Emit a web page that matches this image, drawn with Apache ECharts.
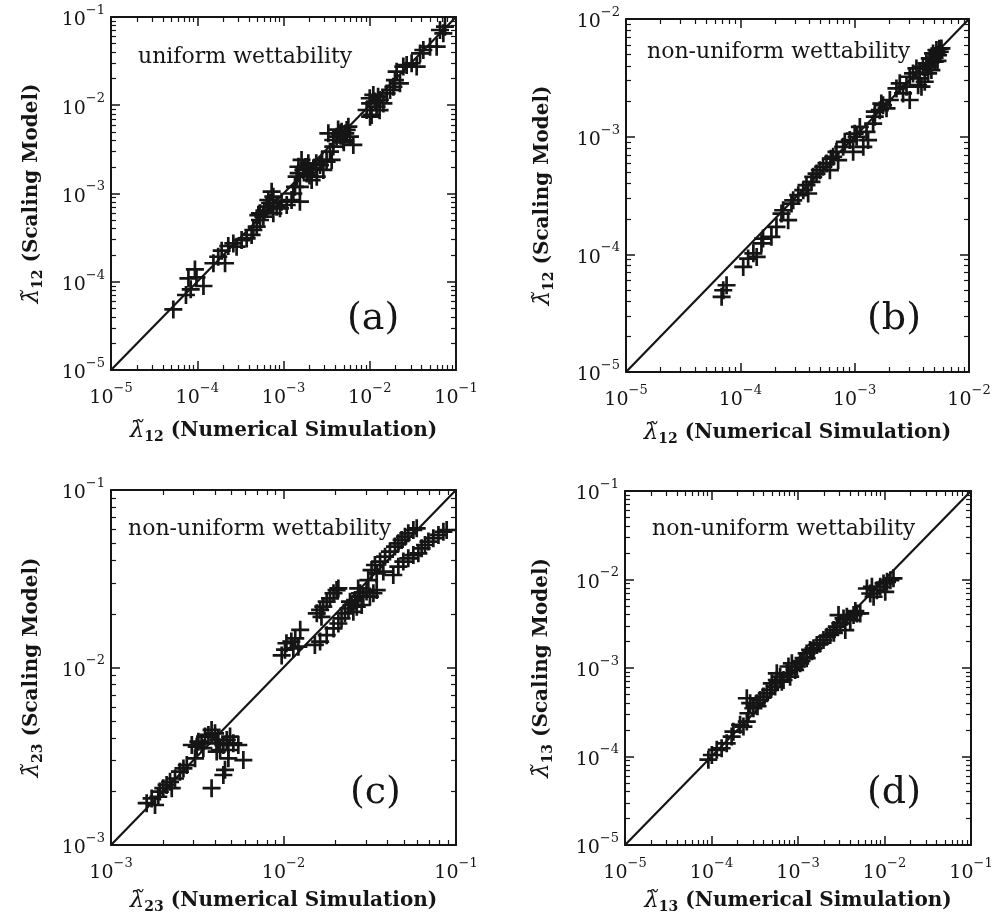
<!DOCTYPE html>
<html><head><meta charset="utf-8">
<script src="https://cdn.jsdelivr.net/npm/echarts@6/dist/echarts.min.js"></script>
<style>html,body{margin:0;padding:0;background:#fff}#c{width:997px;height:916px}</style>
</head><body><div id="c"></div>
<script>
// ---------- data: [numerical simulation, scaling model] ----------
const panelA = [[5.28e-5,4.86e-5],[7.4e-5,7.08e-5],[8.4e-5,8.2e-5],[7.9e-5,1.09e-4],[9.8e-5,1.12e-4],[1.18e-4,8.95e-5],[9.4e-5,1.38e-4],[1.54e-4,1.62e-4],[1.75e-4,1.92e-4],[1.92e-4,2.25e-4],[2.10e-4,1.62e-4],[2.29e-4,2.54e-4],[2.62e-4,2.72e-4],[2.86e-4,2.50e-4],[3.27e-4,2.97e-4],[3.74e-4,3.10e-4],[4.27e-4,3.39e-4],[4.47e-4,3.86e-4],[4.89e-4,4.21e-4],[5.34e-4,5.01e-4],[5.11e-4,5.70e-4],[5.84e-4,5.46e-4],[6.38e-4,7.10e-4],[6.67e-4,8.44e-4],[7.29e-4,1.05e-3],[7.62e-4,5.96e-4],[8.33e-4,7.10e-4],[9.1e-4,6.79e-4],[9.5e-4,8.08e-4],[1.09e-3,7.41e-4],[1.24e-3,8.44e-4],[1.36e-3,1.19e-3],[1.42e-3,1.55e-3],[1.49e-3,2.01e-3],[1.62e-3,2.40e-3],[1.70e-3,1.85e-3],[1.55e-3,8.08e-4],[1.86e-3,1.69e-3],[1.94e-3,2.20e-3],[2.12e-3,1.42e-3],[2.22e-3,1.93e-3],[2.43e-3,1.55e-3],[2.65e-3,2.10e-3],[2.90e-3,1.85e-3],[3.16e-3,2.30e-3],[3.62e-3,2.40e-3],[3.46e-3,2.98e-3],[3.78e-3,3.40e-3],[4.13e-3,4.41e-3],[3.31e-3,4.81e-3],[4.52e-3,4.81e-3],[4.94e-3,4.04e-3],[5.40e-3,5.25e-3],[5.90e-3,4.41e-3],[6.45e-3,3.55e-3],[5.65e-3,5.72e-3],[9.2e-3,8.83e-3],[1.01e-2,1.05e-2],[1.05e-2,7.76e-3],[1.10e-2,1.31e-2],[1.20e-2,9.64e-3],[1.31e-2,1.15e-2],[1.44e-2,1.05e-2],[1.57e-2,1.36e-2],[1.72e-2,1.49e-2],[1.88e-2,1.62e-2],[1.96e-2,1.93e-2],[2.05e-2,2.40e-2],[2.24e-2,1.77e-2],[2.45e-2,2.74e-2],[2.68e-2,2.86e-2],[3.06e-2,2.99e-2],[3.50e-2,2.74e-2],[3.83e-2,3.87e-2],[4.18e-2,4.23e-2],[5.00e-2,4.61e-2],[5.97e-2,4.61e-2],[6.52e-2,7.12e-2],[7.13e-2,6.53e-2],[7.45e-2,7.77e-2],[1.01e-2,7.43e-3],[1.55e-3,1.19e-3],[5.34e-4,5.96e-4],[7.62e-4,9.2e-4],[3.78e-3,4.04e-3],[4.72e-3,5.02e-3],[1.50e-3,1.70e-3],[1.80e-3,2.00e-3],[2.00e-3,1.60e-3],[2.40e-3,2.20e-3],[2.80e-3,2.40e-3],[1.30e-3,1.00e-3],[4.60e-3,4.50e-3],[5.20e-3,4.80e-3],[4.30e-3,5.30e-3],[5.00e-3,3.80e-3],[1.15e-2,1.10e-2],[1.25e-2,1.25e-2],[1.00e-2,1.20e-2],[1.30e-2,8.80e-3],[6.00e-4,6.40e-4],[7.00e-4,7.80e-4]];

const panelB = [[6.86e-5,4.35e-5],[7.58e-5,5.46e-5],[7.09e-5,4.95e-5],[1.06e-4,7.82e-5],[1.17e-4,9.2e-5],[1.30e-4,1.02e-4],[1.39e-4,9.5e-5],[1.53e-4,1.24e-4],[1.58e-4,1.36e-4],[1.87e-4,1.41e-4],[2.07e-4,1.71e-4],[2.29e-4,2.22e-4],[2.37e-4,2.37e-4],[2.62e-4,1.95e-4],[2.80e-4,2.70e-4],[2.90e-4,2.88e-4],[3.21e-4,3.18e-4],[3.55e-4,3.51e-4],[3.79e-4,3.87e-4],[3.92e-4,3.29e-4],[4.19e-4,4.13e-4],[4.34e-4,4.56e-4],[4.64e-4,4.86e-4],[4.96e-4,5.19e-4],[5.30e-4,5.55e-4],[6.07e-4,5.19e-4],[5.67e-4,5.92e-4],[6.49e-4,6.75e-4],[6.93e-4,7.43e-4],[7.17e-4,6.31e-4],[7.93e-4,8.20e-4],[8.20e-4,9.04e-4],[9.06e-4,9.35e-4],[9.7e-4,7.43e-4],[1.04e-3,9.98e-4],[1.11e-3,1.21e-3],[1.19e-3,8.20e-4],[1.27e-3,1.10e-3],[1.31e-3,9.35e-4],[1.45e-3,1.29e-3],[1.50e-3,1.48e-3],[1.66e-3,1.68e-3],[1.77e-3,1.85e-3],[1.90e-3,1.74e-3],[1.50e-3,1.63e-3],[2.03e-3,2.05e-3],[2.32e-3,2.57e-3],[2.48e-3,2.84e-3],[2.65e-3,2.33e-3],[2.84e-3,2.66e-3],[3.03e-3,2.05e-3],[3.24e-3,3.45e-3],[3.47e-3,3.80e-3],[3.71e-3,3.13e-3],[3.96e-3,3.93e-3],[4.24e-3,4.20e-3],[4.10e-3,2.93e-3],[4.54e-3,4.62e-3],[4.85e-3,5.10e-3],[5.19e-3,5.45e-3],[5.55e-3,5.27e-3],[4.69e-3,3.68e-3],[5.01e-3,4.33e-3],[5.36e-3,4.94e-3],[3.84e-3,2.66e-3],[4.39e-3,3.45e-3],[3.03e-3,3.23e-3],[3.59e-3,2.74e-3],[5.74e-3,5.62e-3],[1.71e-3,1.91e-3],[4.50e-3,4.00e-3],[4.80e-3,4.60e-3],[5.20e-3,5.00e-3],[5.00e-3,4.70e-3],[5.50e-3,5.60e-3],[4.30e-3,3.90e-3],[5.30e-3,4.40e-3],[3.70e-3,3.50e-3],[6.20e-4,6.50e-4],[1.00e-3,1.06e-3]];

const panelC = [[1.61e-3,1.72e-3],[1.72e-3,1.83e-3],[1.80e-3,1.68e-3],[1.88e-3,1.87e-3],[1.92e-3,2.00e-3],[2.01e-3,2.09e-3],[2.10e-3,2.18e-3],[2.20e-3,2.27e-3],[2.25e-3,2.09e-3],[2.35e-3,2.37e-3],[2.51e-3,2.59e-3],[2.63e-3,2.70e-3],[2.75e-3,2.82e-3],[3.07e-3,3.08e-3],[3.14e-3,3.58e-3],[3.21e-3,3.82e-3],[3.35e-3,3.74e-3],[3.51e-3,4.08e-3],[3.67e-3,4.17e-3],[3.83e-3,4.45e-3],[4.01e-3,4.26e-3],[4.10e-3,3.74e-3],[4.29e-3,3.43e-3],[4.48e-3,3.66e-3],[4.69e-3,3.91e-3],[4.90e-3,4.08e-3],[5.12e-3,3.74e-3],[4.79e-3,3.43e-3],[5.47e-3,3.66e-3],[5.85e-3,3.01e-3],[4.79e-3,3.08e-3],[4.10e-3,3.36e-3],[4.58e-3,2.65e-3],[4.48e-3,2.48e-3],[3.83e-3,2.09e-3],[4.19e-3,3.91e-3],[3.43e-3,3.51e-3],[2.94e-3,3.66e-3],[9.76e-3,1.17e-2],[1.02e-2,1.26e-2],[1.04e-2,1.37e-2],[1.11e-2,1.40e-2],[1.17e-2,1.46e-2],[1.25e-2,1.63e-2],[1.14e-2,1.28e-2],[1.22e-2,1.31e-2],[1.56e-2,2.02e-2],[1.63e-2,2.11e-2],[1.70e-2,2.20e-2],[1.78e-2,2.35e-2],[1.86e-2,2.45e-2],[1.95e-2,2.62e-2],[2.03e-2,2.73e-2],[2.08e-2,2.79e-2],[1.66e-2,1.93e-2],[1.52e-2,1.34e-2],[1.63e-2,1.40e-2],[1.78e-2,1.52e-2],[1.95e-2,1.66e-2],[2.08e-2,1.77e-2],[2.17e-2,1.89e-2],[2.27e-2,2.02e-2],[2.38e-2,2.15e-2],[2.48e-2,2.25e-2],[2.60e-2,2.40e-2],[2.71e-2,2.51e-2],[2.78e-2,2.62e-2],[2.90e-2,2.51e-2],[3.03e-2,2.68e-2],[3.17e-2,2.51e-2],[3.32e-2,2.62e-2],[3.47e-2,2.73e-2],[2.84e-2,2.25e-2],[2.66e-2,2.20e-2],[2.54e-2,2.06e-2],[2.43e-2,2.35e-2],[2.71e-2,2.79e-2],[3.10e-2,3.11e-2],[3.24e-2,3.54e-2],[3.39e-2,3.78e-2],[3.63e-2,3.95e-2],[3.88e-2,4.21e-2],[4.14e-2,4.50e-2],[4.43e-2,4.80e-2],[4.63e-2,5.01e-2],[4.84e-2,5.23e-2],[5.06e-2,5.46e-2],[5.29e-2,5.70e-2],[5.66e-2,5.95e-2],[5.92e-2,6.08e-2],[3.47e-2,3.39e-2],[3.79e-2,3.47e-2],[4.33e-2,3.32e-2],[4.63e-2,3.70e-2],[4.95e-2,3.95e-2],[5.29e-2,4.12e-2],[5.66e-2,4.30e-2],[6.05e-2,4.40e-2],[6.32e-2,4.69e-2],[6.61e-2,4.90e-2],[6.92e-2,5.12e-2],[7.39e-2,5.35e-2],[7.91e-2,5.58e-2],[8.45e-2,5.82e-2],[8.83e-2,5.95e-2]];

const panelD = [[9.2e-5,9.2e-5],[1.01e-4,1.04e-4],[1.15e-4,1.19e-4],[1.31e-4,1.24e-4],[1.50e-4,1.41e-4],[1.71e-4,1.68e-4],[1.79e-4,1.91e-4],[2.14e-4,2.28e-4],[2.34e-4,2.18e-4],[2.56e-4,2.48e-4],[2.67e-4,3.08e-4],[2.56e-4,4.55e-4],[2.80e-4,4.00e-4],[3.05e-4,3.51e-4],[3.34e-4,4.00e-4],[3.65e-4,4.36e-4],[3.99e-4,4.75e-4],[4.36e-4,5.18e-4],[4.76e-4,5.65e-4],[4.98e-4,6.71e-4],[5.44e-4,6.16e-4],[5.69e-4,7.32e-4],[6.22e-4,7.98e-4],[6.80e-4,7.32e-4],[7.43e-4,8.71e-4],[7.76e-4,1.04e-3],[8.49e-4,1.13e-3],[9.27e-4,9.5e-4],[9.7e-4,1.04e-3],[1.06e-3,1.13e-3],[1.16e-3,1.29e-3],[1.26e-3,1.46e-3],[1.38e-3,1.60e-3],[1.51e-3,1.67e-3],[1.65e-3,1.82e-3],[1.81e-3,1.90e-3],[1.97e-3,2.07e-3],[2.16e-3,2.26e-3],[2.36e-3,2.36e-3],[2.58e-3,2.68e-3],[2.81e-3,2.93e-3],[3.08e-3,3.19e-3],[3.36e-3,3.63e-3],[3.67e-3,3.79e-3],[4.02e-3,3.48e-3],[4.39e-3,3.96e-3],[4.80e-3,4.14e-3],[5.24e-3,4.14e-3],[3.52e-3,2.68e-3],[6.26e-3,7.91e-3],[6.84e-3,6.95e-3],[7.48e-3,6.38e-3],[8.17e-3,7.58e-3],[8.93e-3,8.27e-3],[9.75e-3,9.02e-3],[1.07e-2,9.42e-3],[1.17e-2,9.83e-3],[1.27e-2,1.03e-2],[1.02e-2,7.26e-3],[7.15e-3,8.27e-3],[5.69e-4,8.71e-4],[2.94e-3,3.96e-3],[8.11e-4,7.98e-4],[1.26e-3,1.29e-3],[1.10e-3,1.20e-3],[1.45e-3,1.55e-3],[2.60e-3,2.50e-3],[4.60e-3,4.40e-3],[3.40e-4,3.70e-4],[6.50e-4,7.00e-4]];

// axis ranges and tick labels
const ticksA = [1e-5, 1e-4, 1e-3, 1e-2, 1e-1];
const ticksB = [1e-5, 1e-4, 1e-3, 1e-2];
const ticksC = [1e-3, 1e-2, 1e-1];
const ticksD = [1e-5, 1e-4, 1e-3, 1e-2, 1e-1];
const annotations = ['uniform wettability', 'non-uniform wettability', 'non-uniform wettability', 'non-uniform wettability'];
const panelLabels = ['(a)', '(b)', '(c)', '(d)'];
const subs = ['12', '12', '23', '13'];

// ---------- layout / style ----------
const FONT = 'DejaVu Serif';
const INK = '#151515';
const panels = [
  {data: panelA, ticks: ticksA, grid: {left: 111, top: 17, width: 345, height: 353}, xGap: 48, yGap: 66,
   ann: [138, 57], lab: [347, 319]},
  {data: panelB, ticks: ticksB, grid: {left: 626, top: 19, width: 343, height: 353}, xGap: 48, yGap: 70,
   ann: [647, 52], lab: [867, 319]},
  {data: panelC, ticks: ticksC, grid: {left: 111, top: 490, width: 345, height: 355}, xGap: 43, yGap: 66,
   ann: [128, 529], lab: [350, 793]},
  {data: panelD, ticks: ticksD, grid: {left: 625, top: 491, width: 346, height: 354}, xGap: 43, yGap: 70,
   ann: [652, 529], lab: [867, 793]}
];

const plus = 'path://M-1.2,-8L1.2,-8L1.2,8L-1.2,8Z M-8,-1.2L8,-1.2L8,1.2L-8,1.2Z';

function tickFmt(v) {
  const e = Math.round(Math.log10(v));
  return '{b|10}{s|' + (e < 0 ? '\u2212' : '') + Math.abs(e) + '}';
}
const tickRich = {
  b: {fontFamily: FONT, fontSize: 19, lineHeight: 26, verticalAlign: 'bottom', color: INK},
  s: {fontFamily: FONT, fontSize: 13, lineHeight: 14, verticalAlign: 'top', color: INK}
};
function titleText(sub, txt) { return '{l|\u03bb\u0303}{sub|' + sub + '} ' + txt; }
const nameStyle = {
  fontFamily: FONT, fontSize: 20, fontWeight: 'bold', color: INK, lineHeight: 26,
  rich: {
    l: {fontFamily: FONT, fontSize: 23, fontStyle: 'italic', fontWeight: 'normal', lineHeight: 26, color: INK},
    sub: {fontFamily: FONT, fontSize: 14, fontWeight: 'bold', lineHeight: 14, verticalAlign: 'bottom', color: INK}
  }
};

function axis(gi, pos, min, max, labels, name, gap) {
  return {
    type: 'log', logBase: 10, gridIndex: gi, position: pos, min: min, max: max,
    name: name || '', nameLocation: 'middle', nameGap: gap || 0, nameTextStyle: nameStyle,
    axisLine: {show: true, onZero: false, lineStyle: {color: INK, width: 2}},
    axisTick: {show: true, inside: true, length: 9, lineStyle: {color: INK, width: 1.5}},
    minorTick: {show: true, splitNumber: 9, length: 5, lineStyle: {color: INK, width: 1.2}},
    splitLine: {show: false}, minorSplitLine: {show: false},
    axisLabel: {show: labels, formatter: tickFmt, rich: tickRich,
      margin: (pos === 'bottom') ? 12 : 6, showMinLabel: true, showMaxLabel: true, hideOverlap: false}
  };
}

const grid = [], xAxis = [], yAxis = [], series = [], graphic = [];
panels.forEach((p, i) => {
  grid.push(p.grid);
  const lo = p.ticks[0], hi = p.ticks[p.ticks.length - 1];
  xAxis.push(axis(i, 'bottom', lo, hi, true, titleText(subs[i], '(Numerical Simulation)'), p.xGap));
  xAxis.push(axis(i, 'top', lo, hi, false));
  const ya = axis(i, 'left', lo, hi, true, titleText(subs[i], '(Scaling Model)'), p.yGap);
  ya.nameRotate = 90;
  yAxis.push(ya);
  yAxis.push(axis(i, 'right', lo, hi, false));
  series.push({
    type: 'line', xAxisIndex: 2 * i, yAxisIndex: 2 * i, data: [[lo, lo], [hi, hi]],
    symbol: 'none', lineStyle: {color: INK, width: 2.2}, silent: true, z: 3
  });
  series.push({
    type: 'scatter', xAxisIndex: 2 * i, yAxisIndex: 2 * i, data: p.data,
    symbol: plus, symbolSize: 18, itemStyle: {color: INK, opacity: 1}, z: 4
  });
  graphic.push({type: 'text', x: p.ann[0], y: p.ann[1], z: 10,
    style: {text: annotations[i], fontFamily: FONT, fontSize: 22, fill: INK, verticalAlign: 'middle', align: 'left'}});
  graphic.push({type: 'text', x: p.lab[0], y: p.lab[1], z: 10,
    style: {text: panelLabels[i], fontFamily: FONT, fontSize: 38, fill: INK, verticalAlign: 'middle', align: 'left'}});
});

const chart = echarts.init(document.getElementById('c'), null, {renderer: 'canvas'});
chart.setOption({animation: false, backgroundColor: '#fff', grid, xAxis, yAxis, series, graphic});
</script></body></html>
